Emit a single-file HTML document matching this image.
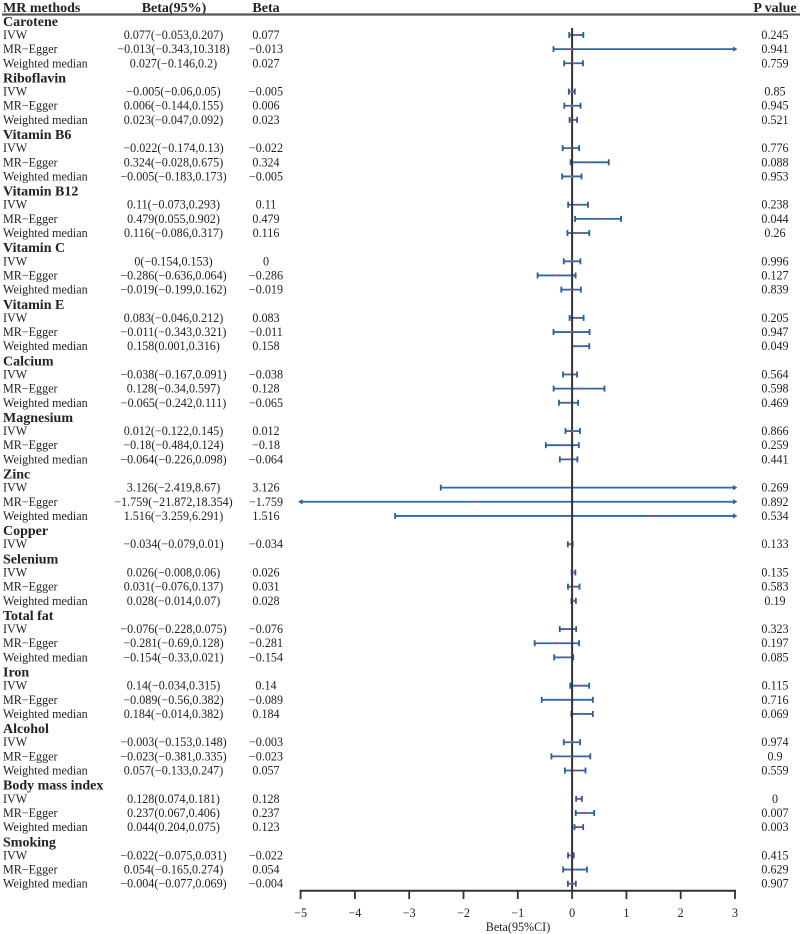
<!DOCTYPE html>
<html>
<head>
<meta charset="utf-8">
<style>
html,body{margin:0;padding:0;background:#fff;}
svg{display:block;font-family:"Liberation Serif",serif;fill:#222;}
</style>
</head>
<body>
<svg id="chart" width="800" height="934" viewBox="0 0 800 934" xmlns="http://www.w3.org/2000/svg"></svg>
<script>
const groupNames = ["Carotene","Riboflavin","Vitamin B6","Vitamin B12","Vitamin C","Vitamin E","Calcium","Magnesium","Zinc","Copper","Selenium","Total fat","Iron","Alcohol","Body mass index","Smoking"];
const methodNames = ["IVW","MR−Egger","Weighted median"];
const groupMethodCounts = [3,3,3,3,3,3,3,3,3,1,3,3,3,3,3,3];
const betaValues = [0.077,-0.013,0.027,-0.005,0.006,0.023,-0.022,0.324,-0.005,0.11,0.479,0.116,0,-0.286,-0.019,0.083,-0.011,0.158,-0.038,0.128,-0.065,0.012,-0.18,-0.064,3.126,-1.759,1.516,-0.034,0.026,0.031,0.028,-0.076,-0.281,-0.154,0.14,-0.089,0.184,-0.003,-0.023,0.057,0.128,0.237,0.123,-0.022,0.054,-0.004];
const lowerValues = [-0.053,-0.343,-0.146,-0.06,-0.144,-0.047,-0.174,-0.028,-0.183,-0.073,0.055,-0.086,-0.154,-0.636,-0.199,-0.046,-0.343,0.001,-0.167,-0.34,-0.242,-0.122,-0.484,-0.226,-2.419,-21.872,-3.259,-0.079,-0.008,-0.076,-0.014,-0.228,-0.69,-0.33,-0.034,-0.56,-0.014,-0.153,-0.381,-0.133,0.074,0.067,0.044,-0.075,-0.165,-0.077];
const upperValues = [0.207,10.318,0.2,0.05,0.155,0.092,0.13,0.675,0.173,0.293,0.902,0.317,0.153,0.064,0.162,0.212,0.321,0.316,0.091,0.597,0.111,0.145,0.124,0.098,8.67,18.354,6.291,0.01,0.06,0.137,0.07,0.075,0.128,0.021,0.315,0.382,0.382,0.148,0.335,0.247,0.181,0.406,0.204,0.031,0.274,0.069];
const printedCI = ["0.077(−0.053,0.207)","−0.013(−0.343,10.318)","0.027(−0.146,0.2)","−0.005(−0.06,0.05)","0.006(−0.144,0.155)","0.023(−0.047,0.092)","−0.022(−0.174,0.13)","0.324(−0.028,0.675)","−0.005(−0.183,0.173)","0.11(−0.073,0.293)","0.479(0.055,0.902)","0.116(−0.086,0.317)","0(−0.154,0.153)","−0.286(−0.636,0.064)","−0.019(−0.199,0.162)","0.083(−0.046,0.212)","−0.011(−0.343,0.321)","0.158(0.001,0.316)","−0.038(−0.167,0.091)","0.128(−0.34,0.597)","−0.065(−0.242,0.111)","0.012(−0.122,0.145)","−0.18(−0.484,0.124)","−0.064(−0.226,0.098)","3.126(−2.419,8.67)","−1.759(−21.872,18.354)","1.516(−3.259,6.291)","−0.034(−0.079,0.01)","0.026(−0.008,0.06)","0.031(−0.076,0.137)","0.028(−0.014,0.07)","−0.076(−0.228,0.075)","−0.281(−0.69,0.128)","−0.154(−0.33,0.021)","0.14(−0.034,0.315)","−0.089(−0.56,0.382)","0.184(−0.014,0.382)","−0.003(−0.153,0.148)","−0.023(−0.381,0.335)","0.057(−0.133,0.247)","0.128(0.074,0.181)","0.237(0.067,0.406)","0.044(0.204,0.075)","−0.022(−0.075,0.031)","0.054(−0.165,0.274)","−0.004(−0.077,0.069)"];
const printedP = ["0.245","0.941","0.759","0.85","0.945","0.521","0.776","0.088","0.953","0.238","0.044","0.26","0.996","0.127","0.839","0.205","0.947","0.049","0.564","0.598","0.469","0.866","0.259","0.441","0.269","0.892","0.534","0.133","0.135","0.583","0.19","0.323","0.197","0.085","0.115","0.716","0.069","0.974","0.9","0.559","0","0.007","0.003","0.415","0.629","0.907"];
const axisTicks = [-5,-4,-3,-2,-1,0,1,2,3];
const axisTitle = "Beta(95%CI)";
const headerLabels = ["MR methods","Beta(95%)","Beta","P value"];

const svg = document.getElementById('chart');
const NS = 'http://www.w3.org/2000/svg';
const xMin = axisTicks[0], xMax = axisTicks[axisTicks.length - 1];
const xScale = v => 300.6 + (v - xMin) * (735 - 300.6) / (xMax - xMin);
const yScale = row => 20.85 + row * 14.145;
const axisY = 890.7;

function add(tag, attrs, text) {
  const el = document.createElementNS(NS, tag);
  for (const k in attrs) el.setAttribute(k, attrs[k]);
  if (text !== undefined) el.textContent = text;
  svg.appendChild(el);
  return el;
}
const fmt = v => String(v).replace('-', '−');
const tx = (x, y, s, size, anchor, weight) => add('text', {x: x, y: y, 'font-size': size, 'text-anchor': anchor || 'start', 'font-weight': weight || 'normal'}, s);

// header
const headerXs = [3, 174, 266, 775];
const headerAnchors = ['start', 'middle', 'middle', 'middle'];
headerLabels.forEach((h, i) => {
  const t = tx(headerXs[i], 12, h, 14, headerAnchors[i], 'bold');
  
  
});
const headerRule = add('line', {x1: 2, x2: 800, y1: 14.5, y2: 14.5, stroke: '#555', 'stroke-width': 2.2});



// rows
const markLayer = [];
let row = 0, idx = 0;
groupNames.forEach((g, gi) => {
  const gt = tx(3, yScale(row) + 5, g, 14, 'start', 'bold');
  
  
  row++;
  for (let m = 0; m < groupMethodCounts[gi]; m++) {
    const y = yScale(row), ty = y + 4;
    const ml = tx(3, ty, methodNames[m], 12.1, 'start');
    
    
    const cl = tx(173.5, ty, printedCI[idx], 12.1, 'middle');
    
    
    const bl = tx(266, ty, fmt(betaValues[idx]), 12.1, 'middle');
    
    
    const pl = tx(775, ty, printedP[idx], 12.1, 'middle');
    
    

    const lo = lowerValues[idx], hi = upperValues[idx];
    const x1 = xScale(Math.max(lo, xMin)), x2 = xScale(Math.min(hi, xMax));
    const ci = add('line', {x1: x1, x2: x2, y1: y, y2: y, stroke: '#2f66a6', 'stroke-width': 1.8});
    
    
    if (lo < xMin) {
      const a = add('polygon', {points: `${x1 - 2.5},${y} ${x1 + 2},${y - 2.6} ${x1 + 2},${y + 2.6}`, fill: '#2f66a6'});
      
      
    } else {
      const c = add('line', {x1: x1, x2: x1, y1: y - 3, y2: y + 3, stroke: '#2f5a96', 'stroke-width': 1.8});
      
      
    }
    if (hi > xMax) {
      const a = add('polygon', {points: `${x2 + 2.5},${y} ${x2 - 2},${y - 2.6} ${x2 - 2},${y + 2.6}`, fill: '#2f66a6'});
      
      
    } else {
      const c = add('line', {x1: x2, x2: x2, y1: y - 3, y2: y + 3, stroke: '#2f5a96', 'stroke-width': 1.8});
      
      
    }
    if (betaValues[idx] >= xMin && betaValues[idx] <= xMax) {
      markLayer.push([xScale(betaValues[idx]), y]);
    }
    row++;
    idx++;
  }
});

// zero reference line sits over the CI lines
const zeroLine = add('line', {x1: xScale(0), x2: xScale(0), y1: 28, y2: axisY, stroke: '#333', 'stroke-width': 2});



markLayer.forEach(p => {
  const pt = add('circle', {cx: p[0], cy: p[1], r: 1.2, fill: '#c4525c'});
  
  
});

// axis
const axisLine = add('line', {x1: xScale(xMin) - 1, x2: xScale(xMax) + 1, y1: axisY, y2: axisY, stroke: '#333', 'stroke-width': 2});


axisTicks.forEach(t => {
  const tick = add('line', {x1: xScale(t), x2: xScale(t), y1: axisY, y2: 899, stroke: '#333', 'stroke-width': 1.8});
  
  
  const lab = tx(xScale(t), 917, fmt(t), 12.1, 'middle');
  
  
});
const xt = tx(518, 931, axisTitle, 12.1, 'middle');


</script>
</body>
</html>
